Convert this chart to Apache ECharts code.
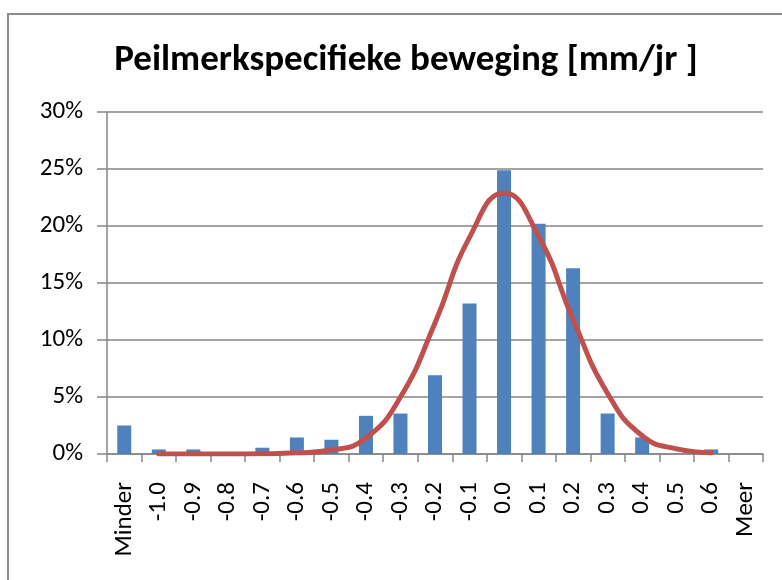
<!DOCTYPE html>
<html>
<head>
<meta charset="utf-8">
<script src="https://cdn.jsdelivr.net/npm/echarts@6/dist/echarts.min.js"></script>
<style>
  html, body { margin: 0; padding: 0; background: #fff; }
  #main { width: 782px; height: 580px; }
</style>
</head>
<body>
<div id="main"></div>
<script>
// bins (mm/jr)
const categories = ['Minder', '-1.0', '-0.9', '-0.8', '-0.7', '-0.6', '-0.5', '-0.4', '-0.3', '-0.2',
  '-0.1', '0.0', '0.1', '0.2', '0.3', '0.4', '0.5', '0.6', 'Meer'];
// frequentie in %
const freqValues = [2.5, 0.4, 0.4, 0, 0.55, 1.45, 1.25, 3.35, 3.55, 6.9,
  13.2, 24.9, 20.2, 16.3, 3.55, 1.45, 0, 0.4, 0];
const normalValues = ['-', 0.0, 0.0, 0.0, 0.02, 0.1, 0.35, 1.4, 5.0, 11.5,
  19.0, 22.9, 19.1, 11.8, 5.3, 1.6, 0.45, 0.12, '-'];
const yTicks = { min: 0, max: 30, interval: 5 };

const labelFont = "Carlito, 'Liberation Sans', sans-serif";

const chart = echarts.init(document.getElementById('main'));
const option = {
  animation: false,
  backgroundColor: '#fff',
  title: {
    text: 'Peilmerkspecifieke beweging [mm/jr ]',
    left: 401,
    top: 37,
    textAlign: 'center',
    textStyle: { fontFamily: labelFont, fontWeight: 'bold', fontSize: 37, color: '#000' }
  },
  graphic: [{
    type: 'rect',
    shape: { x: 8, y: 14, width: 800, height: 600 },
    style: { fill: 'none', stroke: '#8c8c8c', lineWidth: 2 },
    silent: true
  }],
  grid: { left: 107, right: 19, top: 112, bottom: 126 },
  xAxis: {
    type: 'category',
    data: categories,
    boundaryGap: true,
    axisLine: { lineStyle: { color: '#868686', width: 1.5 } },
    axisTick: { show: true, interval: 0, length: 8, lineStyle: { color: '#868686', width: 1.5 } },
    axisLabel: { interval: 0, rotate: 90, margin: 28, fontSize: 25, color: '#000', fontFamily: labelFont }
  },
  yAxis: {
    type: 'value',
    min: yTicks.min,
    max: yTicks.max,
    interval: yTicks.interval,
    axisLine: { show: true, lineStyle: { color: '#868686', width: 1.5 } },
    axisTick: { show: true, length: 10, lineStyle: { color: '#868686', width: 1.5 } },
    axisLabel: { formatter: '{value}%', margin: 24, fontSize: 25, color: '#000', fontFamily: labelFont },
    splitLine: { lineStyle: { color: '#868686', width: 1.5 } }
  },
  series: [
    {
      name: 'Frequentie',
      type: 'bar',
      data: freqValues,
      barWidth: 14,
      itemStyle: { color: '#4F81BD' }
    },
    {
      name: 'Normaal',
      type: 'line',
      data: normalValues,
      smooth: 0.5,
      symbol: 'none',
      lineStyle: { color: '#C0504D', width: 5, cap: 'round' },
      z: 3
    }
  ]
};
chart.setOption(option);
</script>
</body>
</html>
